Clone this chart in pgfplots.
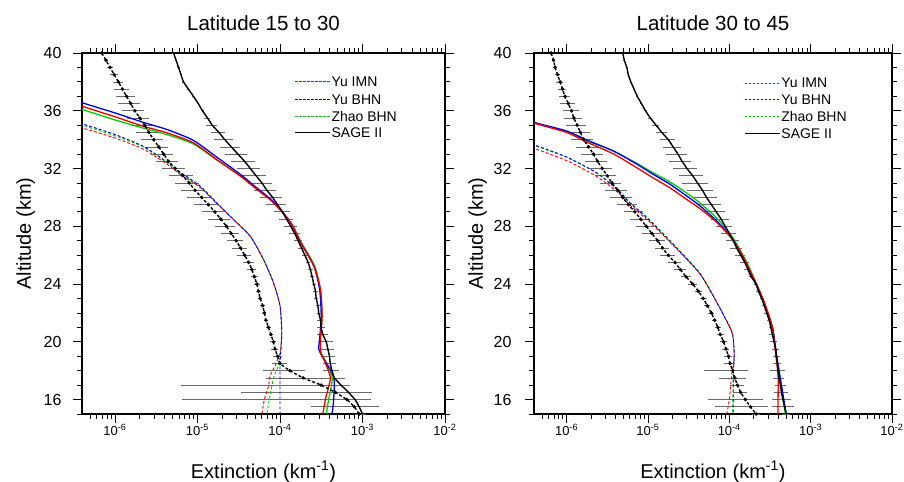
\documentclass[border=0pt]{standalone}
\usepackage{fontspec}
\setmainfont{Liberation Sans}
\usepackage{pgfplots}
\usepackage{pgfplotstable}
\pgfplotsset{compat=1.18}

\definecolor{mred}{RGB}{235,0,0}
\definecolor{mblue}{RGB}{0,0,235}
\definecolor{mgreen}{RGB}{0,205,0}
\definecolor{ebar}{RGB}{105,105,105}

% ---------------- Latitude 15 to 30 ----------------
\pgfplotstableread{
y x r
40.0 5.13e-6 0.03
39.5 5.50e-6 0.03
39.0 5.89e-6 0.03
38.5 6.31e-6 0.03
38.0 6.76e-6 0.03
37.5 7.76e-6 0.03
37.0 8.91e-6 0.03
36.5 1.02e-5 0.03
36.0 1.15e-5 0.04
35.5 1.32e-5 0.08
35.0 1.51e-5 0.15
34.5 1.82e-5 0.20
34.0 2.14e-5 0.25
33.5 2.57e-5 0.28
33.0 3.09e-5 0.30
32.5 3.72e-5 0.32
32.0 4.37e-5 0.32
31.5 5.13e-5 0.33
31.0 6.03e-5 0.33
30.5 6.92e-5 0.30
30.0 8.13e-5 0.30
29.5 9.33e-5 0.28
29.0 1.07e-4 0.22
28.5 1.20e-4 0.20
28.0 1.35e-4 0.18
27.5 1.51e-4 0.15
27.0 1.66e-4 0.12
26.5 1.82e-4 0.10
26.0 2.00e-4 0.08
25.5 2.19e-4 0.06
25.0 2.34e-4 0.06
24.5 2.45e-4 0.06
24.0 2.57e-4 0.06
23.5 2.69e-4 0.06
23.0 2.75e-4 0.06
22.5 2.88e-4 0.06
22.0 2.95e-4 0.06
21.5 3.09e-4 0.08
21.0 3.16e-4 0.10
20.5 3.31e-4 0.15
20.0 3.63e-4 0.20
19.5 3.80e-4 0.18
19.0 3.98e-4 0.18
18.5 4.07e-4 0.18
18.0 4.27e-4 0.22
17.5 4.57e-4 0.33
17.0 5.50e-4 0.30
16.5 6.76e-4 0.95
16.0 8.13e-4 0.20
15.5 9.12e-4 0.74
15.0 1.00e-3 0.10
}\LsageS

\pgfplotstableread{
y x r
40.0 6.92e-7 0.05
39.5 7.76e-7 0.06
39.0 8.71e-7 0.08
38.5 9.77e-7 0.10
38.0 1.10e-6 0.15
37.5 1.23e-6 0.20
37.0 1.38e-6 0.25
36.5 1.55e-6 0.30
36.0 1.74e-6 0.30
35.5 2.00e-6 0.30
35.0 2.29e-6 0.30
34.5 2.57e-6 0.30
34.0 2.95e-6 0.30
33.5 3.39e-6 0.30
33.0 3.89e-6 0.30
32.5 4.47e-6 0.30
32.0 5.37e-6 0.30
31.5 6.61e-6 0.32
31.0 7.94e-6 0.32
30.5 9.33e-6 0.33
30.0 1.12e-5 0.33
29.5 1.35e-5 0.32
29.0 1.62e-5 0.30
28.5 1.91e-5 0.30
28.0 2.24e-5 0.28
27.5 2.57e-5 0.25
27.0 2.95e-5 0.22
26.5 3.31e-5 0.20
26.0 3.72e-5 0.18
25.5 4.17e-5 0.15
25.0 4.57e-5 0.12
24.5 4.90e-5 0.10
24.0 5.25e-5 0.08
23.5 5.50e-5 0.06
23.0 5.75e-5 0.06
22.5 6.17e-5 0.06
22.0 6.46e-5 0.06
21.5 6.76e-5 0.06
21.0 7.24e-5 0.06
20.5 7.76e-5 0.06
20.0 8.32e-5 0.08
19.5 8.71e-5 0.10
19.0 9.33e-5 0.12
18.5 1.00e-4 0.20
18.0 1.32e-4 0.53
17.5 1.91e-4 0.65
17.0 3.16e-4 0.98
16.5 4.68e-4 0.10
16.0 6.46e-4 0.99
15.5 7.94e-4 0.10
15.0 9.12e-4 0.10
}\LsageD

\pgfplotstableread{
y x
36.70 2.51e-7
36.31 3.98e-7
35.62 9.55e-7
34.93 2.19e-6
34.47 4.27e-6
33.78 8.91e-6
32.63 1.70e-5
31.47 3.31e-5
30.55 5.25e-5
29.63 8.32e-5
28.25 1.35e-4
26.87 1.78e-4
25.25 2.57e-4
23.64 3.09e-4
21.80 3.24e-4
20.18 3.09e-4
19.23 3.09e-4
18.80 3.39e-4
17.60 4.07e-4
16.90 3.89e-4
16.00 3.55e-4
15.00 3.31e-4
}\LRs

\pgfplotstableread{
y x
37.00 2.51e-7
36.56 3.98e-7
35.85 1.00e-6
35.20 2.19e-6
34.70 4.27e-6
33.95 8.91e-6
32.80 1.70e-5
31.60 3.31e-5
30.65 5.25e-5
29.70 8.32e-5
28.25 1.35e-4
26.87 1.78e-4
25.25 2.57e-4
23.64 3.02e-4
21.80 3.16e-4
20.18 3.02e-4
19.50 2.95e-4
19.00 3.24e-4
17.60 4.47e-4
16.00 4.47e-4
15.00 4.27e-4
}\LBs

\pgfplotstableread{
y x
36.50 2.51e-7
36.10 3.98e-7
35.40 9.55e-7
34.80 2.19e-6
34.35 4.27e-6
33.70 8.91e-6
32.60 1.70e-5
31.50 3.31e-5
30.60 5.25e-5
29.70 8.32e-5
28.25 1.35e-4
26.87 1.82e-4
25.25 2.63e-4
23.64 3.09e-4
21.80 3.24e-4
20.18 3.09e-4
19.23 3.16e-4
18.80 3.47e-4
17.60 4.27e-4
16.90 4.17e-4
16.00 3.89e-4
15.00 3.63e-4
}\LGs

\pgfplotstableread{
y x
35.20 2.51e-7
34.82 3.98e-7
34.15 9.55e-7
33.35 2.19e-6
32.30 4.27e-6
31.60 6.17e-6
30.70 1.07e-5
29.60 1.70e-5
28.45 2.75e-5
27.30 4.37e-5
25.70 6.31e-5
24.10 8.32e-5
22.50 1.00e-4
20.65 1.05e-4
19.26 1.00e-4
18.34 8.71e-5
17.65 7.59e-5
16.90 7.24e-5
16.00 6.46e-5
15.00 6.03e-5
}\LRd

\pgfplotstableread{
y x
35.50 2.51e-7
35.10 3.98e-7
34.40 9.55e-7
33.55 2.19e-6
32.45 4.27e-6
31.75 6.17e-6
30.80 1.07e-5
29.65 1.70e-5
28.45 2.75e-5
27.30 4.37e-5
25.70 6.31e-5
24.10 8.32e-5
22.50 1.00e-4
20.65 1.05e-4
19.26 1.02e-4
18.30 1.00e-4
17.00 1.00e-4
15.00 1.00e-4
}\LBd

\pgfplotstableread{
y x
35.40 2.51e-7
35.00 3.98e-7
34.30 9.55e-7
33.50 2.19e-6
32.40 4.27e-6
31.70 6.17e-6
30.75 1.07e-5
29.60 1.70e-5
28.45 2.75e-5
27.30 4.37e-5
25.70 6.31e-5
24.10 8.32e-5
22.50 1.00e-4
20.65 1.05e-4
19.26 1.02e-4
18.34 9.55e-5
17.65 8.51e-5
16.90 7.94e-5
16.00 7.41e-5
15.00 6.92e-5
}\LGd

% ---------------- Latitude 30 to 45 ----------------
\pgfplotstableread{
y x r
40.0 4.90e-6 0.03
39.5 5.13e-6 0.03
39.0 5.50e-6 0.03
38.5 5.75e-6 0.03
38.0 6.17e-6 0.03
37.5 6.76e-6 0.03
37.0 7.41e-6 0.03
36.5 8.32e-6 0.03
36.0 9.33e-6 0.04
35.5 1.07e-5 0.06
35.0 1.26e-5 0.10
34.5 1.48e-5 0.15
34.0 1.78e-5 0.20
33.5 2.04e-5 0.25
33.0 2.34e-5 0.28
32.5 2.63e-5 0.30
32.0 3.02e-5 0.32
31.5 3.55e-5 0.33
31.0 4.07e-5 0.35
30.5 4.68e-5 0.35
30.0 5.25e-5 0.33
29.5 6.03e-5 0.30
29.0 6.92e-5 0.28
28.5 7.94e-5 0.25
28.0 8.91e-5 0.22
27.5 1.00e-4 0.20
27.0 1.12e-4 0.18
26.5 1.23e-4 0.16
26.0 1.38e-4 0.14
25.5 1.55e-4 0.12
25.0 1.70e-4 0.10
24.5 1.86e-4 0.06
24.0 2.14e-4 0.06
23.5 2.29e-4 0.06
23.0 2.51e-4 0.06
22.5 2.69e-4 0.06
22.0 2.88e-4 0.06
21.5 3.09e-4 0.06
21.0 3.24e-4 0.06
20.5 3.39e-4 0.08
20.0 3.55e-4 0.10
19.5 3.72e-4 0.10
19.0 3.80e-4 0.10
18.5 3.89e-4 0.12
18.0 3.98e-4 0.20
17.5 4.07e-4 0.15
17.0 4.27e-4 0.15
16.5 4.37e-4 0.20
16.0 4.57e-4 0.27
15.5 4.79e-4 0.30
15.0 5.01e-4 0.10
}\RsageS

\pgfplotstableread{
y x r
40.0 6.46e-7 0.04
39.5 6.92e-7 0.05
39.0 7.24e-7 0.06
38.5 7.76e-7 0.08
38.0 8.32e-7 0.10
37.5 8.91e-7 0.12
37.0 9.55e-7 0.15
36.5 1.05e-6 0.20
36.0 1.15e-6 0.22
35.5 1.23e-6 0.25
35.0 1.35e-6 0.28
34.5 1.48e-6 0.30
34.0 1.62e-6 0.30
33.5 1.86e-6 0.30
33.0 2.14e-6 0.30
32.5 2.40e-6 0.30
32.0 2.75e-6 0.30
31.5 3.16e-6 0.30
31.0 3.63e-6 0.30
30.5 4.27e-6 0.30
30.0 4.90e-6 0.30
29.5 5.75e-6 0.28
29.0 6.92e-6 0.26
28.5 8.13e-6 0.25
28.0 9.55e-6 0.25
27.5 1.12e-5 0.25
27.0 1.32e-5 0.22
26.5 1.51e-5 0.20
26.0 1.78e-5 0.20
25.5 2.14e-5 0.18
25.0 2.51e-5 0.16
24.5 2.95e-5 0.14
24.0 3.55e-5 0.12
23.5 4.17e-5 0.10
23.0 4.79e-5 0.10
22.5 5.37e-5 0.08
22.0 6.03e-5 0.08
21.5 6.61e-5 0.08
21.0 7.24e-5 0.08
20.5 7.76e-5 0.10
20.0 8.51e-5 0.10
19.5 9.12e-5 0.10
19.0 9.77e-5 0.12
18.5 1.02e-4 0.15
18.0 1.10e-4 0.56
17.5 1.17e-4 0.37
17.0 1.26e-4 0.20
16.5 1.38e-4 0.20
16.0 1.58e-4 0.65
15.5 1.82e-4 0.63
15.0 2.14e-4 0.10
}\RsageD

\pgfplotstableread{
y x
35.60 2.51e-7
35.15 3.98e-7
34.50 1.00e-6
33.80 1.82e-6
33.00 3.80e-6
32.10 7.08e-6
31.40 1.12e-5
30.70 1.82e-5
30.00 2.75e-5
29.30 4.17e-5
28.30 6.92e-5
27.20 1.05e-4
26.10 1.41e-4
25.10 1.74e-4
23.80 2.24e-4
22.60 2.75e-4
21.00 3.39e-4
19.10 3.72e-4
17.70 3.98e-4
16.00 3.98e-4
15.00 3.98e-4
}\RRs

\pgfplotstableread{
y x
35.65 2.51e-7
35.20 3.98e-7
34.60 1.00e-6
33.95 1.82e-6
33.20 3.80e-6
32.35 7.08e-6
31.65 1.12e-5
30.95 1.82e-5
30.25 2.75e-5
29.50 4.17e-5
28.40 6.92e-5
27.25 1.05e-4
26.10 1.41e-4
25.10 1.70e-4
23.80 2.19e-4
22.60 2.69e-4
21.00 3.39e-4
19.10 3.80e-4
17.70 4.17e-4
16.00 4.68e-4
15.00 5.01e-4
}\RBs

\pgfplotstableread{
y x
35.60 2.51e-7
35.15 3.98e-7
34.55 1.00e-6
33.90 1.82e-6
33.20 3.80e-6
32.40 7.08e-6
31.75 1.12e-5
31.10 1.82e-5
30.45 2.75e-5
29.70 4.17e-5
28.60 6.92e-5
27.40 1.05e-4
26.20 1.41e-4
25.20 1.74e-4
23.80 2.24e-4
22.60 2.75e-4
21.00 3.39e-4
19.10 3.80e-4
17.70 4.17e-4
16.00 4.57e-4
15.00 4.90e-4
}\RGs

\pgfplotstableread{
y x
33.85 2.51e-7
33.40 3.98e-7
32.55 1.00e-6
31.45 2.34e-6
30.35 4.27e-6
29.45 6.03e-6
28.30 1.05e-5
26.45 2.24e-5
24.70 4.37e-5
22.80 6.92e-5
21.30 9.55e-5
20.50 1.10e-4
19.10 1.15e-4
17.70 1.07e-4
16.00 1.00e-4
15.00 9.33e-5
}\RRd

\pgfplotstableread{
y x
34.10 2.51e-7
33.65 3.98e-7
32.80 1.00e-6
31.70 2.34e-6
30.50 4.27e-6
29.60 6.03e-6
28.40 1.05e-5
26.50 2.24e-5
24.70 4.37e-5
22.80 6.92e-5
21.30 9.55e-5
20.50 1.10e-4
19.10 1.15e-4
17.70 1.12e-4
15.00 1.12e-4
}\RBd

\pgfplotstableread{
y x
34.05 2.51e-7
33.60 3.98e-7
32.78 1.00e-6
31.70 2.34e-6
30.55 4.27e-6
29.65 6.03e-6
28.45 1.05e-5
26.55 2.24e-5
24.75 4.37e-5
22.80 6.92e-5
21.30 9.55e-5
20.50 1.10e-4
19.10 1.15e-4
17.70 1.12e-4
15.00 1.10e-4
}\RGd

\pgfplotsset{
  model solid/.style={line width=1.3bp, smooth, tension=0.4, forget plot},
  model dashed/.style={line width=0.9bp, smooth, tension=0.4, dash pattern=on 3bp off 2bp, forget plot},
  sage solid/.style={black, line width=1.4bp, smooth, tension=0.3, forget plot},
  sage dashed/.style={black, line width=1.4bp, smooth, tension=0.3, dash pattern=on 3bp off 2bp, mark=*, mark size=0.9bp, mark options={solid}, forget plot},
}
\tikzset{
  legkey/.style={line width=0.9bp, dash pattern=on 2.5bp off 1.5bp},
  legtext/.style={anchor=west, inner sep=1bp, text height=10bp, text depth=0pt,
    font=\fontsize{14bp}{17bp}\selectfont},
}

\begin{document}
\begin{tikzpicture}
\useasboundingbox (0,0) rectangle (904bp,-482bp);

\begin{axis}[
  scale only axis, width=363bp, height=361bp,
  at={(82bp,-53bp)}, anchor=north west,
  xmode=log, xmin=3.98e-7, xmax=1e-2, ymin=15, ymax=40,
  xtick={1e-6,1e-5,1e-4,1e-3,1e-2},
  xticklabels={10\textsuperscript{-6},10\textsuperscript{-5},10\textsuperscript{-4},10\textsuperscript{-3},10\textsuperscript{-2}},
  minor xtick={5e-7,6e-7,7e-7,8e-7,9e-7,
    2e-6,3e-6,4e-6,5e-6,6e-6,7e-6,8e-6,9e-6,
    2e-5,3e-5,4e-5,5e-5,6e-5,7e-5,8e-5,9e-5,
    2e-4,3e-4,4e-4,5e-4,6e-4,7e-4,8e-4,9e-4,
    2e-3,3e-3,4e-3,5e-3,6e-3,7e-3,8e-3,9e-3},
  ytick={16,20,24,28,32,36,40},
  yticklabels={16,20,24,28,32,36,40},
  minor ytick={15,...,40},
  tick align=outside, major tick length=9bp, minor tick length=5bp,
  axis line style={line width=1.1bp},
  every tick/.style={black, line width=0.8bp},
  xticklabel style={font=\fontsize{13bp}{13bp}\selectfont, anchor=base, yshift=-12bp},
  yticklabel style={font=\fontsize{16bp}{16bp}\selectfont, xshift=-8bp},
  title={Latitude 15 to 30},
  title style={font=\fontsize{20.5bp}{20.5bp}\selectfont, at={(0.5,1)}, anchor=base, yshift=17bp},
  xlabel={Extinction (km\textsuperscript{-1})},
  ylabel={Altitude (km)},
  xlabel style={font=\fontsize{20bp}{20bp}\selectfont, at={(axis description cs:0.5,-0.178)}, anchor=base},
  ylabel style={font=\fontsize{20bp}{20bp}\selectfont, at={(axis description cs:-0.141,0.5)}, anchor=base},
]
\addplot[draw=none, mark=none, forget plot,
  error bars/x dir=both, error bars/x explicit relative, error bars/error mark=none,
  error bars/error bar style={draw=ebar, line width=0.7bp, solid}]
  table[x=x, y=y, x error=r] {\LsageS};
\addplot[draw=none, mark=none, forget plot,
  error bars/x dir=both, error bars/x explicit relative, error bars/error mark=none,
  error bars/error bar style={draw=ebar, line width=0.7bp, solid}]
  table[x=x, y=y, x error=r] {\LsageD};
\addplot[model dashed, mgreen] table[x=x, y=y] {\LGd};
\addplot[model dashed, mred] table[x=x, y=y] {\LRd};
\addplot[model dashed, mblue] table[x=x, y=y] {\LBd};
\addplot[model solid, mgreen] table[x=x, y=y] {\LGs};
\addplot[model solid, mblue] table[x=x, y=y] {\LBs};
\addplot[model solid, mred] table[x=x, y=y] {\LRs};
\addplot[sage dashed] table[x=x, y=y] {\LsageD};
\addplot[sage solid] table[x=x, y=y] {\LsageS};
% legend
\draw[legkey, mred] (axis description cs:0.587,0.920) -- (axis description cs:0.6834,0.920) node[legtext, black] {Yu IMN};
\draw[legkey, mblue] (axis description cs:0.587,0.872) -- (axis description cs:0.6834,0.872) node[legtext, black] {Yu BHN};
\draw[legkey, mgreen] (axis description cs:0.587,0.825) -- (axis description cs:0.6834,0.825) node[legtext, black] {Zhao BHN};
\draw[black, line width=1.1bp] (axis description cs:0.587,0.779) -- (axis description cs:0.6834,0.779) node[legtext, black] {SAGE II};
\end{axis}

\begin{axis}[
  scale only axis, width=358bp, height=361bp,
  at={(534bp,-53bp)}, anchor=north west,
  xmode=log, xmin=3.98e-7, xmax=1e-2, ymin=15, ymax=40,
  xtick={1e-6,1e-5,1e-4,1e-3,1e-2},
  xticklabels={10\textsuperscript{-6},10\textsuperscript{-5},10\textsuperscript{-4},10\textsuperscript{-3},10\textsuperscript{-2}},
  minor xtick={5e-7,6e-7,7e-7,8e-7,9e-7,
    2e-6,3e-6,4e-6,5e-6,6e-6,7e-6,8e-6,9e-6,
    2e-5,3e-5,4e-5,5e-5,6e-5,7e-5,8e-5,9e-5,
    2e-4,3e-4,4e-4,5e-4,6e-4,7e-4,8e-4,9e-4,
    2e-3,3e-3,4e-3,5e-3,6e-3,7e-3,8e-3,9e-3},
  ytick={16,20,24,28,32,36,40},
  yticklabels={16,20,24,28,32,36,40},
  minor ytick={15,...,40},
  tick align=outside, major tick length=9bp, minor tick length=5bp,
  axis line style={line width=1.1bp},
  every tick/.style={black, line width=0.8bp},
  xticklabel style={font=\fontsize{13bp}{13bp}\selectfont, anchor=base, yshift=-12bp},
  yticklabel style={font=\fontsize{16bp}{16bp}\selectfont, xshift=-10bp},
  title={Latitude 30 to 45},
  title style={font=\fontsize{20.5bp}{20.5bp}\selectfont, at={(0.5,1)}, anchor=base, yshift=17bp},
  xlabel={Extinction (km\textsuperscript{-1})},
  ylabel={Altitude (km)},
  xlabel style={font=\fontsize{20bp}{20bp}\selectfont, at={(axis description cs:0.5,-0.178)}, anchor=base},
  ylabel style={font=\fontsize{20bp}{20bp}\selectfont, at={(axis description cs:-0.143,0.5)}, anchor=base},
]
\addplot[draw=none, mark=none, forget plot,
  error bars/x dir=both, error bars/x explicit relative, error bars/error mark=none,
  error bars/error bar style={draw=ebar, line width=0.7bp, solid}]
  table[x=x, y=y, x error=r] {\RsageS};
\addplot[draw=none, mark=none, forget plot,
  error bars/x dir=both, error bars/x explicit relative, error bars/error mark=none,
  error bars/error bar style={draw=ebar, line width=0.7bp, solid}]
  table[x=x, y=y, x error=r] {\RsageD};
\addplot[model dashed, mgreen] table[x=x, y=y] {\RGd};
\addplot[model dashed, mred] table[x=x, y=y] {\RRd};
\addplot[model dashed, mblue] table[x=x, y=y] {\RBd};
\addplot[model solid, mgreen] table[x=x, y=y] {\RGs};
\addplot[model solid, mblue] table[x=x, y=y] {\RBs};
\addplot[model solid, mred] table[x=x, y=y] {\RRs};
\addplot[sage dashed] table[x=x, y=y] {\RsageD};
\addplot[sage solid] table[x=x, y=y] {\RsageS};
% legend
\draw[legkey, mred] (axis description cs:0.589,0.917) -- (axis description cs:0.6868,0.917) node[legtext, black] {Yu IMN};
\draw[legkey, mblue] (axis description cs:0.589,0.870) -- (axis description cs:0.6868,0.870) node[legtext, black] {Yu BHN};
\draw[legkey, mgreen] (axis description cs:0.589,0.823) -- (axis description cs:0.6868,0.823) node[legtext, black] {Zhao BHN};
\draw[black, line width=1.1bp] (axis description cs:0.589,0.778) -- (axis description cs:0.6868,0.778) node[legtext, black] {SAGE II};
\end{axis}
\end{tikzpicture}
\end{document}
